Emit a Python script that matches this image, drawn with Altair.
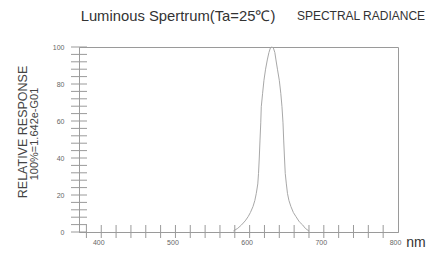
import altair as alt
import pandas as pd

# Spectrum
wavelength = [578, 584, 589, 594, 598, 601, 604.5, 607, 609, 611, 612, 613, 614, 615, 615.7, 617.5,
              619.3, 621.5, 623.8, 626, 628, 630, 632, 634, 635.5, 637.5, 640, 642, 643.6, 645,
              645.9, 647, 648, 649.5, 651, 653, 655.7, 659, 662.5, 667, 671.5, 675, 680]
response = [0.5, 2, 3.8, 6, 8.3, 10.5, 13.7, 17, 20.9, 26, 31.7, 40, 49.7, 59, 67.7, 75,
            82, 88, 93, 97, 99.5, 100, 99.5, 97, 93, 88, 82, 75, 67.7, 59,
            49.7, 40, 31.7, 26, 20.9, 17, 13.7, 10.5, 8.3, 5.5, 3.8, 2, 0.5]

x_labels = [400, 500, 600, 700, 800]
x_ticks = list(range(380, 800, 20))
y_labels = [0, 20, 40, 60, 80, 100]
y_ticks = list(range(0, 101, 4))

title_text = ["Luminous Spertrum(Ta=25℃)"]
subtitle_text = ["SPECTRAL RADIANCE"]
ytitle_lines = ["RELATIVE RESPONSE", "100%=1.642e-G01"]
unit_text = ["nm"]

W, H = 319, 185
FONT = "Liberation Sans"
GRAY = "#9a9a9a"

xs = alt.Scale(domain=[370, 800], nice=False)
ys = alt.Scale(domain=[0, 100], nice=False)

x_axis = alt.Axis(values=x_labels, ticks=False, grid=False,
                  domainColor=GRAY, labelFontSize=7, labelColor="#666", labelFont=FONT,
                  labelPadding=6, labelOffset=-3, title=None, labelFlush=False, labelOverlap=False)
y_axis = alt.Axis(values=y_labels, ticks=False, grid=False,
                  domainColor=GRAY, labelFontSize=7, labelColor="#666", labelFont=FONT,
                  labelPadding=15, title=None, labelOverlap=False, labelFlush=False)

curve_df = pd.DataFrame({"wl": wavelength, "val": response})

curve = alt.Chart(curve_df).mark_line(color="#a8a8a8", strokeWidth=1).encode(
    x=alt.X("wl:Q", scale=xs, axis=x_axis),
    y=alt.Y("val:Q", scale=ys, axis=y_axis),
)

xt = alt.Chart(pd.DataFrame({"t": x_ticks})).mark_rule(color=GRAY, strokeWidth=1).encode(
    x=alt.X("t:Q", scale=xs, axis=x_axis), y=alt.value(H - 7), y2=alt.value(H + 6))
yt = alt.Chart(pd.DataFrame({"t": y_ticks})).mark_rule(color=GRAY, strokeWidth=1).encode(
    y=alt.Y("t:Q", scale=ys, axis=y_axis), x=alt.value(-8), x2=alt.value(8))

title = alt.Chart(pd.DataFrame({"s": title_text})).mark_text(
    font=FONT, fontSize=14.8, color="#333", baseline="middle", align="center").encode(
    text="s:N", x=alt.value(99), y=alt.value(-30))
sub = alt.Chart(pd.DataFrame({"s": subtitle_text})).mark_text(
    font=FONT, fontSize=12, color="#333", baseline="middle", align="center").encode(
    text="s:N", x=alt.value(282), y=alt.value(-31))
yt1 = alt.Chart(pd.DataFrame({"s": ytitle_lines[:1]})).mark_text(
    font=FONT, fontSize=12.5, color="#444", baseline="middle", align="center", angle=270).encode(
    text="s:N", x=alt.value(-56), y=alt.value(85))
yt2 = alt.Chart(pd.DataFrame({"s": ytitle_lines[1:]})).mark_text(
    font=FONT, fontSize=11, color="#444", baseline="middle", align="center", angle=270).encode(
    text="s:N", x=alt.value(-44), y=alt.value(87))
unit = alt.Chart(pd.DataFrame({"s": unit_text})).mark_text(
    font=FONT, fontSize=14, color="#333", baseline="middle", align="center").encode(
    text="s:N", x=alt.value(337), y=alt.value(196))

chart = alt.layer(curve, xt, yt, title, sub, yt1, yt2, unit).properties(
    width=W, height=H,
    autosize=alt.AutoSizeParams(type="none"),
    padding={"left": 71, "top": 39, "right": 29, "bottom": 20},
    background="white",
).configure_view(stroke=GRAY, strokeWidth=1)

chart.save("out.html", embed_options={"renderer": "svg", "actions": False})
